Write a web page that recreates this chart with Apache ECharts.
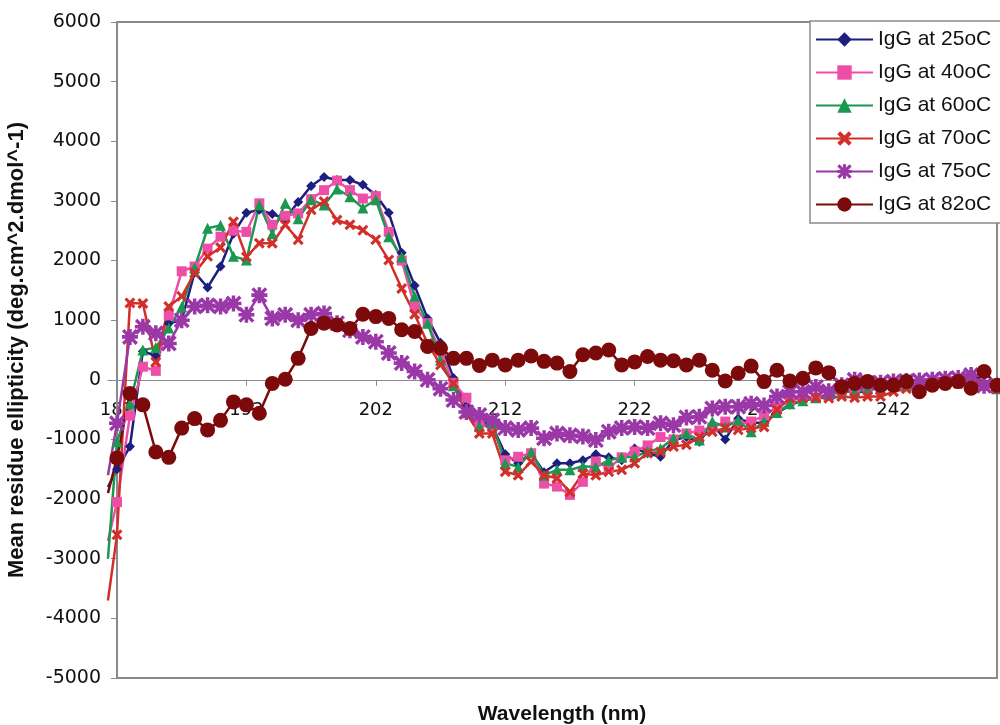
<!DOCTYPE html>
<html>
<head>
<meta charset="utf-8">
<title>IgG CD spectra</title>
<script src="https://cdn.jsdelivr.net/npm/echarts/dist/echarts.min.js"></script>
<style>
  html, body { margin: 0; padding: 0; background: #ffffff; }
  #chart { width: 1000px; height: 725px; }
</style>
</head>
<body>
<div id="chart"></div>
<script>
// Wavelength (nm) of every reading; the first reading sits just below 182 nm
const wavelengths = [181.3,
  182, 183, 184, 185, 186, 187, 188, 189, 190, 191,
  192, 193, 194, 195, 196, 197, 198, 199, 200, 201,
  202, 203, 204, 205, 206, 207, 208, 209, 210, 211,
  212, 213, 214, 215, 216, 217, 218, 219, 220, 221,
  222, 223, 224, 225, 226, 227, 228, 229, 230, 231,
  232, 233, 234, 235, 236, 237, 238, 239, 240, 241,
  242, 243, 244, 245, 246, 247, 248, 249, 250];

// Mean residue ellipticity, one value per wavelength
const igg25 = [-1800,
  -1500, -1120, 480, 400, 950, 1000, 1800, 1550, 1900, 2450,
  2800, 2850, 2780, 2700, 2980, 3250, 3400, 3350, 3350, 3270,
  3100, 2800, 2130, 1580, 1030, 620, 30, -450, -680, -770,
  -1250, -1400, -1230, -1550, -1400, -1400, -1350, -1250, -1300, -1350,
  -1150, -1230, -1290, -1010, -960, -1040, -750, -1000, -650, -720,
  -720, -560, -420, -350, -300, -250, -150, -220, -180, -120,
  -100, -80, -60, -30, 0, 20, 100, -50, -100];

const igg40 = [-2700,
  -2050, -600, 220, 150, 1080, 1820, 1900, 2200, 2400, 2500,
  2480, 2960, 2600, 2750, 2790, 3030, 3180, 3340, 3180, 3040,
  3080, 2480, 2000, 1230, 950, 480, -50, -300, -730, -790,
  -1350, -1290, -1230, -1740, -1790, -1930, -1710, -1370, -1480, -1300,
  -1200, -1100, -960, -1000, -900, -850, -800, -700, -750, -700,
  -600, -450, -350, -300, -300, -250, -200, -200, -150, -150,
  -100, -100, -80, -50, -50, -30, 0, -100, -150];

const igg60 = [-3000,
  -1040, -400, 500, 540, 870, 1220, 1880, 2540, 2590, 2070,
  2010, 2930, 2450, 2960, 2700, 3020, 2930, 3200, 3070, 2880,
  3020, 2400, 2060, 1400, 950, 330, -100, -550, -780, -730,
  -1400, -1460, -1210, -1600, -1510, -1510, -1450, -1460, -1350, -1300,
  -1290, -1200, -1150, -980, -900, -1010, -700, -790, -680, -870,
  -700, -550, -400, -350, -300, -250, -200, -200, -150, -150,
  -100, -100, -80, -50, -30, -20, 0, -80, -150];

const igg70 = [-3700,
  -2600, 1290, 1280, 300, 1230, 1400, 1790, 2070, 2220, 2650,
  2060, 2290, 2290, 2600, 2350, 2850, 2990, 2680, 2600, 2510,
  2350, 2010, 1530, 1100, 610, 250, -60, -560, -900, -900,
  -1540, -1600, -1370, -1600, -1650, -1880, -1570, -1600, -1540, -1510,
  -1400, -1230, -1210, -1120, -1090, -960, -870, -810, -840, -810,
  -790, -500, -310, -300, -300, -310, -280, -300, -280, -280,
  -200, -150, -150, -100, -80, -60, -30, -100, -150];

const igg75 = [-1600,
  -730, 720, 890, 780, 610, 1000, 1230, 1250, 1230, 1280,
  1090, 1420, 1030, 1090, 1000, 1090, 1110, 950, 830, 720,
  640, 450, 280, 140, 0, -150, -340, -540, -590, -680,
  -810, -840, -810, -980, -900, -930, -950, -1010, -870, -810,
  -790, -810, -730, -760, -630, -620, -480, -450, -450, -400,
  -430, -280, -200, -200, -120, -190, -90, 0, -50, -50,
  -30, -20, -10, 0, 20, 30, 80, -100, -100];

const igg82 = [-1900,
  -1310, -230, -420, -1210, -1300, -810, -650, -840, -680, -370,
  -420, -560, -60, 10, 360, 860, 950, 920, 860, 1100,
  1060, 1030, 840, 810, 560, 530, 360, 360, 240, 330,
  250, 330, 400, 310, 280, 140, 420, 450, 500, 250,
  300, 390, 330, 320, 250, 330, 160, -20, 110, 230,
  -30, 160, -20, 25, 200, 120, -115, -60, -30, -90,
  -90, -30, -200, -90, -60, -30, -140, 140, -90];

const seriesNames = ['IgG at 25oC', 'IgG at 40oC', 'IgG at 60oC',
                     'IgG at 70oC', 'IgG at 75oC', 'IgG at 82oC'];

// Tick labels on the wavelength axis
const xTicks = [182, 192, 202, 212, 222, 232, 242];

// Filled marker outlines: a diagonal cross and an eight-armed asterisk
const crossPath = 'path://M2,0 L5,3 L8,0 L10,2 L7,5 L10,8 L8,10 L5,7 L2,10 L0,8 L3,5 L0,2 Z';
const starPath = 'path://M3.9,0 L6.1,0 L6.1,10 L3.9,10 Z ' +
                 'M0,3.9 L10,3.9 L10,6.1 L0,6.1 Z ' +
                 'M1.5,0 L10,8.5 L8.5,10 L0,1.5 Z ' +
                 'M8.5,0 L10,1.5 L1.5,10 L0,8.5 Z';

const looks = [
  { values: igg25, color: '#1c1f80', symbol: 'diamond',  size: 10 },
  { values: igg40, color: '#ee4fa6', symbol: 'rect',     size: 10 },
  { values: igg60, color: '#1a9850', symbol: 'triangle', size: 11 },
  { values: igg70, color: '#d22f2a', symbol: crossPath,  size: 11 },
  { values: igg75, color: '#9b38a8', symbol: starPath,   size: 16 },
  { values: igg82, color: '#7d0a0a', symbol: 'circle',   size: 15 }
];

const series = looks.map((s, k) => ({
  name: seriesNames[k],
  type: 'line',
  symbol: s.symbol,
  symbolSize: s.size,
  showAllSymbol: true,
  color: s.color,
  lineStyle: { width: 2.5, color: s.color },
  itemStyle: { color: s.color },
  emphasis: { disabled: true },
  data: wavelengths.map((w, i) =>
    i === 0 ? { value: [w, s.values[i]], symbol: 'none' } : [w, s.values[i]])
}));

// Plot layout: the wavelength scale starts at the first reading, while the
// ellipticity axis and the frame stand at 182 nm; the wavelength axis runs
// along the zero line.
const xMin = wavelengths[0], xMax = 250, axisAt = 182;
const yMin = -5000, yMax = 6000;
const frameLeft = 117, frameRight = 997, plotTop = 22, plotHeight = 656;
const pxPerNm = (frameRight - frameLeft) / (xMax - axisAt);
const gridLeft = frameLeft - (axisAt - xMin) * pxPerNm;
const zeroShift = -plotHeight * (0 - yMin) / (yMax - yMin);

const chart = echarts.init(document.getElementById('chart'), null, { renderer: 'canvas' });
chart.setOption({
  animation: false,
  backgroundColor: '#ffffff',
  title: {
    text: 'Wavelength (nm)',
    left: 557,
    top: 699,
    textAlign: 'center',
    textStyle: { fontFamily: 'Liberation Sans', fontWeight: 'bold', fontSize: 21, color: '#111' }
  },
  grid: {
    left: gridLeft, top: plotTop, width: frameRight - gridLeft, height: plotHeight,
    outerBoundsMode: 'none',
    containLabel: false,
    show: false
  },
  graphic: [{
    type: 'rect',
    z: 1,
    silent: true,
    shape: { x: frameLeft, y: plotTop, width: frameRight - frameLeft, height: plotHeight },
    style: { fill: 'none', stroke: '#8a8a8a', lineWidth: 2 }
  }],
  legend: {
    orient: 'vertical',
    left: 810, top: 21,
    padding: [8, 12, 8, 5],
    itemWidth: 57, itemHeight: 18, itemGap: 12,
    backgroundColor: '#ffffff',
    borderColor: '#8a8a8a', borderWidth: 1.5,
    textStyle: { fontFamily: 'Liberation Sans', fontSize: 21, color: '#111' },
    data: seriesNames
  },
  xAxis: {
    type: 'value',
    position: 'bottom',
    offset: zeroShift,
    min: xMin, max: xMax,
    axisLine: { show: true, onZero: false, lineStyle: { color: '#8a8a8a', width: 1.2 } },
    axisTick: { show: true, customValues: xTicks, length: 6, lineStyle: { color: '#8a8a8a' } },
    axisLabel: {
      customValues: xTicks, margin: 22,
      fontFamily: 'DejaVu Sans', fontSize: 18, color: '#111'
    },
    splitLine: { show: false }
  },
  yAxis: {
    type: 'value',
    position: 'left',
    offset: gridLeft - frameLeft,
    min: yMin, max: yMax, interval: 1000,
    name: 'Mean residue ellipticity (deg.cm^2.dmol^-1)',
    nameLocation: 'middle',
    nameGap: 89,
    nameTextStyle: { fontFamily: 'Liberation Sans', fontWeight: 'bold', fontSize: 22, color: '#111' },
    axisLine: { show: true, onZero: false, lineStyle: { color: '#8a8a8a', width: 2 } },
    axisTick: { show: true, length: 6, lineStyle: { color: '#8a8a8a' } },
    axisLabel: {
      margin: 16, fontFamily: 'DejaVu Sans', fontSize: 19, color: '#111',
      formatter: v => String(v)
    },
    splitLine: { show: false }
  },
  series: series
});
</script>
</body>
</html>
